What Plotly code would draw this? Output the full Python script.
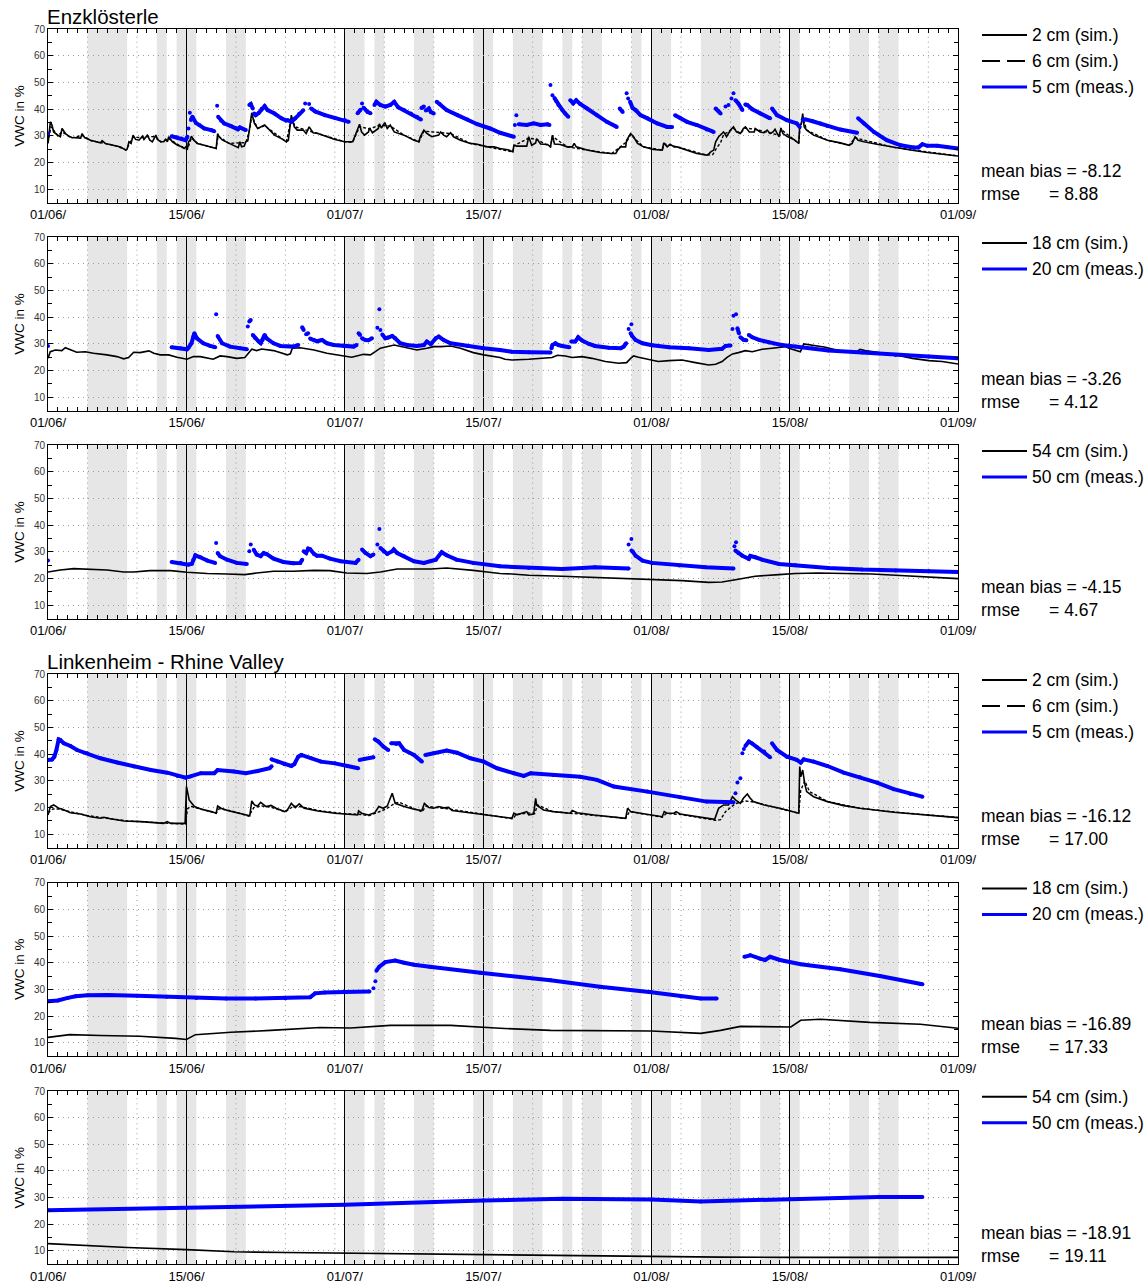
import plotly.graph_objects as go

# ---------------- data ----------------
DATE_TICKS = [0, 14, 30, 44, 61, 75, 92]
DATE_LABELS = ["01/06/", "15/06/", "01/07/", "15/07/", "01/08/", "15/08/", "01/09/"]

# rain days (grey bands), in days after 01/06
RAIN_DAYS = [(4, 8), (11, 12), (13, 15), (18, 20), (30, 32), (33, 34), (37, 39), (43, 45),
             (47, 50), (52, 53), (54, 56), (59, 60), (61, 63), (66, 70), (72, 74), (75, 76),
             (81, 83), (84, 86)]

# ---- Enzklösterle ----
ENZ_SIM_2 = [(0, 27.2), (0.14, 30.9), (0.24, 35.3), (0.4, 34.1), (0.57, 31.5), (0.98, 30.3), (1.25, 29.7),
             (1.42, 32.8), (1.76, 30.9), (2.1, 29.9), (2.43, 29.4), (3.3, 29.2), (3.45, 30.9), (3.7, 29.4),
             (4.3, 28.4), (5.3, 27.4), (5.47, 28.2), (5.8, 27.2), (6.66, 26.5), (7.34, 25.9), (7.85, 24.7),
             (8.0, 25.0), (8.18, 27.8), (8.4, 27.2), (8.6, 30.3), (8.86, 28.7), (9.2, 28.4), (9.54, 29.9),
             (9.7, 28.7), (10.04, 30.3), (10.3, 28.4), (10.55, 27.8), (10.9, 30.3), (11.06, 28.7), (11.4, 27.8),
             (11.7, 27.8), (11.9, 28.7), (12.07, 27.8), (12.2, 29.7), (12.58, 27.8), (13.1, 26.5), (13.6, 25.9),
             (13.76, 25.3), (13.93, 25.9), (14.1, 25.3), (14.2, 27.8), (14.34, 28.4), (14.5, 29.9), (14.75, 28.4),
             (15.1, 27.2), (15.8, 26.5), (16.3, 25.9), (16.8, 25.3), (17.0, 25.3), (17.15, 30.9), (17.3, 29.7),
             (17.65, 28.4), (18.3, 27.2), (19.0, 25.9), (19.24, 25.6), (19.4, 27.8), (19.57, 25.9), (19.84, 26.2),
             (20.0, 27.8), (20.2, 28.2), (20.36, 33.4), (20.6, 38.7), (20.87, 34.7), (21.2, 32.8), (21.9, 34.1),
             (22.2, 33.0), (22.9, 30.3), (23.6, 29.0), (24.1, 27.8), (24.3, 28.4), (24.6, 37.8), (24.9, 33.4),
             (25.2, 32.2), (25.8, 32.2), (26.1, 30.9), (26.4, 33.4), (26.8, 31.2), (27.3, 30.9), (28.3, 29.7),
             (29.0, 28.7), (30.0, 27.8), (30.8, 27.8), (31.0, 29.7), (31.5, 34.4), (31.7, 31.5), (32.0, 30.3),
             (32.4, 31.5), (32.5, 33.0), (32.8, 31.2), (33.4, 32.8), (33.5, 34.5), (33.7, 33.0), (34.05, 35.0),
             (34.3, 32.8), (34.6, 34.1), (35.0, 31.5), (36.0, 30.3), (37.0, 28.4), (37.5, 27.8), (37.64, 29.7),
             (38.0, 32.2), (38.3, 31.0), (38.8, 29.7), (39.5, 30.3), (39.7, 31.5), (40.0, 30.3), (40.3, 29.7),
             (40.7, 31.2), (41.0, 29.7), (41.7, 28.4), (42.7, 27.2), (43.4, 26.9), (44.4, 25.9), (45.1, 25.9),
             (45.7, 25.3), (46.6, 24.7), (47.0, 24.0), (47.1, 26.5), (47.4, 26.2), (48.4, 26.2), (48.6, 29.7),
             (48.9, 26.5), (49.3, 27.4), (49.4, 29.0), (49.8, 27.0), (50.5, 26.8), (50.8, 25.9), (51.0, 30.3),
             (51.2, 27.0), (51.8, 26.8), (52.5, 25.9), (53.0, 25.9), (53.2, 27.2), (53.4, 25.9), (54.5, 24.7),
             (55.8, 23.8), (56.9, 23.4), (57.4, 23.4), (57.6, 24.7), (57.9, 25.9), (58.4, 25.9), (58.5, 28.4),
             (58.9, 30.9), (59.2, 29.7), (59.6, 27.2), (60.2, 25.9), (61.2, 24.9), (62.1, 24.7), (62.25, 27.4),
             (62.6, 25.9), (62.9, 26.9), (63.3, 25.9), (63.6, 25.9), (64.6, 24.7), (65.6, 23.4), (66.6, 22.8),
             (66.8, 23.2), (67.0, 24.0), (67.3, 24.7), (67.5, 27.8), (67.8, 29.7), (68.3, 31.5), (68.6, 29.7),
             (69.0, 32.2), (69.3, 33.4), (69.6, 31.5), (70.0, 30.9), (70.3, 32.8), (70.5, 33.4), (70.9, 31.5),
             (71.4, 31.5), (71.5, 32.8), (72.0, 31.5), (72.4, 31.2), (72.7, 32.2), (73.0, 30.9), (73.3, 31.5),
             (73.5, 32.5), (73.9, 29.7), (74.1, 33.0), (74.3, 30.9), (74.7, 29.9), (75.4, 28.7), (75.9, 27.2),
             (76.0, 34.1), (76.15, 34.4), (76.3, 38.4), (76.45, 33.4), (76.7, 32.2), (77.4, 30.3), (78.1, 29.4),
             (78.8, 28.4), (80.1, 27.4), (81.0, 26.5), (81.3, 27.2), (81.6, 29.7), (81.9, 28.4), (82.5, 27.8),
             (83.8, 26.9), (85.5, 25.7), (87.2, 24.7), (88.9, 23.8), (90.6, 23.2), (92.0, 22.5)]

ENZ_SIM_6 = [(0, 27.5), (0.3, 33.5), (1.0, 30.0), (1.4, 31.5), (2.4, 29.3), (3.45, 30.2), (4.3, 28.3),
             (6.7, 26.5), (7.9, 24.8), (8.2, 27.0), (8.6, 29.5), (9.5, 29.4), (10.0, 29.8), (10.9, 29.7),
             (11.4, 27.8), (12.2, 29.0), (13.7, 25.4), (14.1, 25.0), (14.3, 27.5), (14.5, 29.3), (15.1, 27.2),
             (17.0, 25.3), (17.2, 30.0), (18.3, 27.2), (20.0, 27.5), (20.4, 32.5), (20.6, 37.5), (21.2, 32.8),
             (21.9, 33.8), (23.6, 29.0), (24.1, 27.8), (24.6, 36.8), (25.0, 33.4), (27.3, 30.9), (30.0, 27.8),
             (30.8, 27.6), (31.5, 33.5), (32.5, 32.6), (33.5, 34.0), (34.6, 33.7), (36.0, 30.3), (37.5, 27.8),
             (38.0, 31.8), (40.7, 30.9), (42.7, 27.2), (44.4, 25.9), (47.0, 24.0), (47.1, 26.3), (48.6, 29.2),
             (49.4, 28.7), (50.8, 25.9), (51.0, 29.8), (52.5, 25.9), (54.5, 24.7), (57.0, 23.4), (58.5, 27.8),
             (58.9, 30.5), (60.2, 25.9), (62.1, 24.7), (62.3, 27.0), (63.6, 25.9), (66.6, 22.8), (67.2, 23.0),
             (67.6, 25.5), (68.0, 27.5), (68.3, 30.5), (69.3, 32.8), (70.0, 30.9), (70.5, 33.0), (71.5, 32.5),
             (72.7, 31.5), (74.0, 30.2), (74.1, 32.5), (75.9, 27.2), (76.0, 32.0), (76.3, 37.0), (76.7, 32.2),
             (78.8, 28.4), (81.0, 26.5), (81.6, 29.3), (85.5, 25.7), (92.0, 22.5)]

ENZ_MEAS_5 = [
    [(0.0, 30.9)],
    [(12.5, 29.9), (13.0, 29.5), (13.5, 29.0), (13.9, 28.4), (14.1, 29.7)],
    [(14.2, 32.8)], [(14.34, 38.7)],
    [(14.45, 36.0), (14.6, 37.2), (14.95, 34.9), (15.3, 34.1), (15.8, 32.8), (16.5, 32.2), (16.8, 31.8)],
    [(17.1, 41.3)],
    [(17.2, 37.2), (17.5, 35.7), (17.8, 34.7), (18.5, 33.7), (19.0, 33.0), (19.2, 32.5), (19.4, 33.2), (20.0, 32.2)],
    [(20.35, 41.6), (20.5, 42.0), (20.7, 40.3)],
    [(20.85, 38.4), (21.0, 37.8), (21.3, 38.6), (21.6, 40.2), (21.9, 41.2), (22.2, 39.7), (22.9, 38.4),
     (23.6, 36.6), (24.1, 35.7)],
    [(24.2, 36.0), (24.6, 35.3), (25.0, 36.6), (25.4, 38.3), (25.8, 39.6)],
    [(26.0, 42.2)], [(26.4, 42.0)],
    [(26.6, 40.3), (27.0, 39.2), (28.0, 37.8), (29.0, 36.8), (30.0, 36.0), (30.4, 35.3)],
    [(31.3, 38.5), (31.6, 39.8)], [(31.75, 42.2)],
    [(31.9, 40.6), (32.3, 39.0), (32.6, 38.5)],
    [(33.0, 41.6), (33.2, 42.8), (33.6, 41.6), (34.1, 41.0), (34.6, 41.6), (35.0, 42.8), (35.4, 40.8),
     (36.0, 39.7), (36.7, 38.4), (37.3, 37.2), (37.7, 36.2)],
    [(37.75, 40.5), (38.0, 41.0)],
    [(38.2, 39.5), (38.5, 40.3), (38.7, 39.0), (39.0, 38.4)],
    [(39.3, 42.8), (39.6, 42.0), (40.3, 39.7), (41.4, 37.8), (42.4, 36.2), (43.4, 34.4), (44.7, 32.8),
     (45.7, 31.2), (47.1, 29.7)],
    [(47.2, 34.1)], [(47.35, 37.8)],
    [(47.6, 34.4), (48.4, 34.1), (49.1, 34.7), (49.8, 34.1), (50.5, 34.4), (50.7, 34.1)],
    [(50.8, 49.1)], [(51.0, 45.3)],
    [(51.2, 44.2), (51.4, 43.0), (51.6, 41.6), (52.0, 39.7), (52.3, 38.4), (52.6, 37.2)],
    [(52.8, 43.4), (53.1, 42.2), (53.4, 43.4), (53.8, 42.0), (54.5, 40.3), (55.5, 37.8), (56.5, 35.3), (57.5, 33.4)],
    [(57.8, 40.3), (58.1, 39.0)],
    [(58.5, 46.0)], [(58.65, 44.0)],
    [(58.85, 42.8), (59.1, 40.5), (59.4, 39.7), (59.9, 37.8), (60.6, 36.6), (61.6, 34.7), (62.6, 33.4), (63.1, 33.4)],
    [(63.4, 37.8), (63.9, 36.8), (64.6, 35.3), (65.6, 34.1), (66.6, 32.4), (67.3, 31.5)],
    [(67.5, 40.3), (67.8, 39.3), (68.0, 38.4)],
    [(68.5, 41.0)], [(68.8, 41.6)], [(69.1, 44.0)], [(69.3, 46.0)],
    [(69.5, 43.4), (69.8, 42.2), (70.2, 39.7)],
    [(70.5, 41.8), (70.7, 41.6), (71.2, 40.0), (72.0, 38.4), (73.0, 36.6)],
    [(73.2, 40.3), (73.7, 37.8), (74.7, 35.9), (75.7, 34.7), (76.0, 33.4)],
    [(76.3, 36.2), (76.6, 36.2), (77.3, 35.5), (78.1, 34.7), (78.8, 33.7), (80.1, 32.4), (81.8, 31.2)],
    [(81.9, 36.6), (82.5, 34.7), (83.5, 31.5), (84.8, 28.4), (86.2, 26.5), (87.5, 25.7), (88.0, 25.7),
     (88.4, 26.9), (88.9, 26.3), (89.9, 26.3), (90.9, 25.9), (92.0, 25.3)],
]

ENZ_SIM_18 = [(0, 24.6), (0.23, 27.1), (0.74, 27.75), (1.4, 27.5), (1.75, 28.6), (2.25, 27.75), (2.9, 26.9),
              (3.77, 27.1), (4.6, 26.5), (5.96, 25.9), (6.97, 25.25), (7.65, 24.4), (8.15, 24.9), (8.66, 26.9),
              (9.3, 26.75), (10.2, 27.4), (10.7, 26.5), (11.35, 25.9), (12.2, 25.9), (13.04, 25.0), (14.05, 24.25),
              (14.7, 25.25), (15.4, 25.25), (16.7, 24.25), (17.4, 25.5), (18.1, 25.25), (19.1, 24.6), (19.9, 24.9),
              (20.3, 26.5), (20.6, 28.0), (21.1, 27.5), (21.6, 28.1), (22.8, 27.5), (24.2, 25.9), (24.5, 26.3),
              (24.7, 28.4), (25.5, 28.6), (26.9, 27.75), (28.2, 26.5), (29.6, 25.5), (30.7, 25.0), (31.2, 25.5),
              (31.9, 26.1), (32.6, 25.9), (32.9, 26.75), (33.6, 28.4), (35.0, 29.6), (36.0, 28.75), (37.3, 27.75),
              (38.3, 28.4), (39.0, 29.0), (39.7, 29.0), (40.7, 29.25), (41.7, 28.4), (43.0, 26.75), (44.05, 25.9),
              (45.7, 24.9), (46.2, 24.25), (46.9, 24.0), (48.6, 24.25), (49.95, 24.6), (50.96, 24.9), (51.5, 25.75),
              (52.3, 25.5), (53.0, 24.9), (54.0, 25.25), (55.0, 24.6), (56.35, 23.4), (57.7, 22.75), (58.5, 23.0),
              (58.9, 24.6), (59.2, 25.5), (59.7, 25.0), (60.7, 24.25), (61.7, 23.4), (62.8, 23.75), (64.1, 24.0),
              (65.45, 23.0), (66.8, 22.1), (67.5, 22.4), (68.15, 23.4), (68.65, 25.0), (69.2, 26.25), (69.8, 26.75),
              (70.5, 27.5), (71.2, 27.1), (72.2, 28.0), (73.2, 28.4), (73.9, 28.75), (74.55, 29.0), (74.9, 28.4),
              (75.56, 27.75), (76.07, 27.1), (76.4, 30.0), (77.25, 29.6), (78.6, 28.75), (79.9, 27.5),
              (80.96, 27.1), (81.6, 26.75), (82.1, 28.0), (82.6, 27.5), (84.0, 26.75), (85.7, 25.9),
              (87.4, 24.6), (89.05, 23.75), (90.4, 23.4), (92.0, 22.5)]

ENZ_MEAS_20 = [
    [(0.0, 29.25)],
    [(12.5, 28.75), (13.4, 28.4), (14.05, 28.0), (14.2, 28.6), (14.5, 30.25), (14.7, 32.75), (14.8, 34.0),
     (15.06, 32.1), (15.7, 30.25), (16.4, 29.25), (16.9, 28.75)],
    [(17.0, 41.1)],
    [(17.15, 33.0), (17.6, 30.25), (18.4, 29.0), (19.4, 28.4), (20.1, 28.0)],
    [(20.2, 36.5)], [(20.35, 38.4), (20.5, 39.0)],
    [(20.7, 33.4), (20.96, 32.1), (21.3, 30.9), (21.5, 30.3), (21.7, 31.5), (21.9, 33.4), (22.1, 32.1),
     (22.8, 30.25), (23.5, 29.25), (24.8, 29.0), (25.3, 29.6)],
    [(25.7, 36.25), (25.85, 35.2)],
    [(26.1, 33.6), (26.3, 34.0)],
    [(26.5, 32.0), (26.9, 31.5), (27.2, 31.0), (27.7, 31.5), (28.2, 30.25), (28.9, 29.6), (29.9, 29.25),
     (30.9, 29.0), (31.2, 29.6)],
    [(31.4, 34.0), (31.55, 33.4)],
    [(31.75, 32.1), (32.1, 31.5), (32.4, 31.4), (32.75, 32.1)],
    [(33.3, 36.1)], [(33.5, 43.0)], [(33.6, 35.25)],
    [(33.8, 33.5), (34.1, 32.1), (34.4, 32.4), (34.8, 33.0), (35.1, 32.1), (35.6, 30.25), (36.3, 29.6),
     (37.3, 29.25), (38.0, 29.6), (38.3, 30.9), (38.7, 29.9), (39.2, 32.1), (39.5, 32.75), (40.0, 31.5),
     (40.7, 30.25), (42.4, 29.25), (44.05, 28.4), (45.7, 27.75), (46.9, 27.1), (48.6, 26.9), (50.8, 26.75)],
    [(50.9, 28.4), (51.0, 29.6), (51.3, 30.25), (51.6, 29.6), (52.0, 29.25), (52.7, 28.75)],
    [(52.9, 30.9), (53.3, 30.9), (53.6, 32.5), (54.0, 31.25), (54.7, 30.0), (55.3, 29.25), (56.7, 28.6),
     (57.9, 28.4), (58.2, 29.0), (58.45, 30.25)],
    [(58.7, 35.6)], [(58.98, 37.4)],
    [(58.9, 34.0), (59.05, 33.0), (59.4, 31.5), (60.1, 30.25), (61.07, 29.5), (62.8, 28.75), (64.8, 28.4),
     (66.8, 27.75), (68.15, 28.2), (68.5, 29.25), (69.0, 29.4)],
    [(69.2, 35.6)], [(69.3, 40.6)], [(69.56, 41.1)],
    [(69.7, 35.9), (69.85, 34.0)],
    [(70.0, 32.5), (70.3, 31.6), (70.6, 31.4)],
    [(70.85, 33.4), (71.2, 32.5), (71.9, 31.5), (72.9, 30.5), (73.4, 30.2), (74.2, 29.6), (75.56, 29.0),
     (77.25, 28.4), (78.9, 27.5), (82.3, 26.75), (85.7, 25.9), (89.05, 25.25), (92.0, 24.6)],
]

ENZ_SIM_54 = [(0, 22.5), (1.24, 23.25), (2.6, 23.75), (4.3, 23.6), (5.96, 23.25), (7.65, 22.5), (8.66, 22.5),
              (10.3, 23.0), (12.4, 23.0), (14.05, 22.4), (16.1, 21.9), (18.1, 21.75), (19.9, 21.5), (21.1, 22.1),
              (22.8, 22.75), (24.8, 22.75), (26.9, 23.1), (28.5, 23.0), (30.2, 22.1), (32.25, 21.9), (33.6, 22.5),
              (35.3, 23.6), (37.0, 23.6), (38.7, 23.6), (40.3, 24.0), (41.7, 23.6), (43.0, 23.1), (44.4, 22.5),
              (45.7, 21.9), (46.9, 21.75), (48.6, 21.25), (51.97, 20.9), (55.3, 20.5), (58.7, 19.9),
              (61.07, 19.6), (64.1, 19.25), (66.8, 18.6), (68.15, 18.75), (69.5, 19.6), (71.5, 20.9),
              (73.9, 21.5), (75.56, 21.9), (77.9, 22.1), (80.6, 21.9), (83.3, 21.75), (85.7, 21.25),
              (89.05, 20.5), (92.0, 20.0)]

ENZ_MEAS_50 = [
    [(0.0, 26.75)],
    [(12.5, 26.25), (13.4, 25.9), (14.2, 25.25), (14.55, 25.6), (14.7, 27.1), (14.9, 28.75), (15.4, 28.0),
     (16.1, 26.75), (16.9, 25.9)],
    [(17.0, 33.4)],
    [(17.15, 29.6), (17.4, 28.4), (18.1, 27.1), (19.1, 25.9), (20.1, 25.5)],
    [(20.35, 30.25)], [(20.5, 32.75)],
    [(20.8, 30.8), (21.1, 29.0), (21.5, 28.4), (21.8, 29.6), (22.1, 29.2), (22.8, 27.5), (23.8, 26.25),
     (24.8, 25.75), (25.5, 25.9), (25.7, 27.1)],
    [(25.85, 30.25), (26.1, 29.6), (26.3, 31.25), (26.5, 31.0), (26.9, 29.25), (27.2, 28.6), (27.7, 28.6),
     (28.5, 27.5), (29.6, 26.5), (31.1, 25.9), (31.4, 27.1)],
    [(31.75, 30.9), (32.1, 29.6), (32.6, 28.4), (32.9, 29.0)],
    [(33.3, 32.75)], [(33.5, 38.6)],
    [(33.6, 31.5), (33.95, 30.2), (34.3, 29.25), (34.8, 30.25), (34.95, 30.9), (35.3, 29.6), (36.0, 28.4),
     (37.0, 26.5), (38.0, 25.9), (38.7, 26.5), (39.2, 27.1), (39.8, 29.9), (40.3, 28.75), (41.3, 27.1),
     (43.0, 25.9), (45.7, 24.6), (48.6, 24.0), (51.97, 23.6), (54.0, 24.0), (55.3, 24.25), (58.7, 23.75)],
    [(58.7, 32.75)], [(58.98, 34.9)],
    [(58.98, 30.5), (59.1, 30.2), (59.4, 28.6), (60.1, 26.75), (61.07, 25.9), (63.8, 24.9), (66.5, 24.25),
     (69.3, 23.75)],
    [(69.4, 32.1)], [(69.56, 33.6)],
    [(69.5, 30.5), (69.8, 29.6), (70.2, 28.6), (70.85, 27.4), (71.0, 28.5), (71.5, 28.0), (72.2, 27.1),
     (73.9, 25.5), (75.56, 25.0), (78.9, 24.0), (82.3, 23.4), (85.7, 23.0), (89.05, 22.75), (92.0, 22.5)],
]

# ---- Linkenheim - Rhine Valley ----
LIN_SIM_2 = [(0, 17.25), (0.24, 20.4), (0.57, 21.0), (1.08, 19.75), (1.4, 19.5), (2.27, 18.1), (3.28, 17.6),
             (4.3, 16.6), (5.3, 16.0), (5.65, 16.4), (6.3, 15.8), (7.7, 15.0), (9.4, 14.75), (11.05, 14.4),
             (11.7, 14.1), (12.07, 14.75), (12.4, 14.1), (13.4, 14.1), (13.86, 14.1), (14.0, 27.9), (14.27, 22.9),
             (14.8, 20.4), (15.45, 19.5), (16.5, 18.5), (17.0, 17.9), (17.15, 20.6), (17.5, 19.75), (18.15, 18.9),
             (19.2, 17.9), (20.2, 16.9), (20.4, 16.9), (20.6, 22.5), (20.87, 21.0), (21.2, 20.6), (21.5, 22.0),
             (22.05, 20.4), (22.55, 20.8), (23.06, 19.75), (23.9, 18.5), (24.2, 19.1), (24.6, 21.6), (25.0, 20.0),
             (25.4, 21.4), (25.9, 19.75), (27.3, 18.75), (29.0, 17.9), (30.7, 17.25), (31.3, 17.25), (31.4, 18.75),
             (31.7, 17.9), (32.4, 17.25), (33.04, 18.1), (33.45, 20.4), (33.9, 19.75), (34.3, 20.6), (34.8, 25.4),
             (35.1, 21.6), (36.0, 20.4), (37.0, 19.4), (37.8, 18.9), (38.05, 21.6), (38.5, 20.0), (39.0, 19.75),
             (39.5, 20.4), (40.0, 19.9), (40.5, 20.1), (40.85, 18.9), (41.7, 18.5), (43.4, 17.9), (45.1, 16.9),
             (46.9, 16.0), (47.1, 17.9), (47.4, 17.3), (48.4, 18.5), (48.6, 17.3), (49.1, 17.6), (49.3, 23.5),
             (49.4, 21.0), (50.1, 19.1), (51.1, 18.5), (52.8, 17.9), (53.0, 18.9), (53.5, 18.1), (55.2, 17.25),
             (57.2, 16.6), (58.4, 16.0), (58.6, 19.75), (58.9, 18.5), (59.9, 17.9), (61.2, 17.0), (62.1, 16.6),
             (62.3, 18.5), (62.6, 17.9), (63.3, 17.9), (63.5, 18.5), (63.9, 17.6), (65.6, 16.6), (67.3, 15.4),
             (67.4, 15.6), (67.8, 19.75), (68.3, 21.0), (68.8, 21.0), (69.2, 24.1), (69.5, 22.9), (70.0, 21.6),
             (70.3, 23.5), (70.7, 25.1), (71.0, 23.5), (71.3, 22.25), (72.4, 21.0), (74.0, 19.75), (75.9, 17.9),
             (76.0, 35.4), (76.1, 31.6), (76.3, 34.1), (76.5, 29.1), (76.7, 26.0), (77.4, 24.1), (78.8, 22.25),
             (80.45, 20.75), (82.1, 19.75), (85.5, 18.25), (88.9, 17.25), (92.0, 16.25)]

LIN_SIM_6 = [(0, 18.0), (0.5, 19.5), (1.0, 19.5), (2.5, 18.2), (4.0, 17.0), (6.0, 16.0), (8.0, 15.0),
             (10.0, 14.6), (12.0, 14.3), (13.9, 13.8), (14.1, 19.5), (14.4, 20.5), (15.5, 19.4), (17.0, 17.9),
             (17.3, 19.6), (18.5, 18.8), (20.3, 16.8), (20.8, 20.0), (21.6, 20.6), (22.5, 20.2), (24.0, 18.4),
             (24.8, 20.5), (25.6, 20.3), (27.5, 18.8), (30.0, 17.7), (31.4, 17.5), (32.5, 17.0), (33.5, 18.5),
             (34.2, 19.5), (35.0, 21.5), (35.5, 22.0), (37.8, 18.4), (38.2, 20.5), (40.5, 19.5), (43.0, 18.0),
             (47.0, 15.8), (47.3, 17.3), (48.5, 18.0), (49.2, 17.8), (49.5, 21.0), (51.0, 18.5), (55.0, 17.2),
             (58.4, 16.0), (58.8, 18.5), (62.1, 16.4), (62.5, 17.8), (64.0, 17.4), (67.5, 15.2), (68.0, 15.5),
             (68.5, 18.5), (69.5, 21.5), (70.5, 22.5), (71.5, 22.0), (74.0, 19.6), (75.9, 17.9), (76.1, 26.5),
             (76.5, 30.0), (77.0, 26.0), (78.8, 22.3), (82.0, 19.8), (86.0, 18.2), (92.0, 16.3)]

LIN_MEAS_5 = [
    [(0.0, 37.9), (0.4, 38.0), (0.64, 39.1), (0.85, 41.6), (1.08, 45.6), (1.25, 45.4), (1.6, 44.1),
     (2.27, 43.1), (2.94, 41.6), (3.96, 40.4), (5.3, 38.5), (7.0, 36.9), (8.7, 35.4), (10.4, 34.1),
     (12.07, 33.1), (13.1, 31.9), (13.9, 31.25), (14.4, 31.7), (15.45, 32.9), (16.8, 32.9), (17.15, 34.1),
     (18.8, 33.5), (20.0, 32.9), (21.2, 33.75), (22.4, 34.75), (22.6, 35.5)],
    [(22.6, 38.1), (23.2, 37.25), (23.9, 36.25), (24.6, 35.6), (24.9, 36.3), (25.3, 39.1), (25.6, 39.75),
     (26.6, 38.5), (27.6, 37.25), (29.0, 36.6), (30.3, 35.6), (31.35, 34.75)],
    [(31.5, 37.9), (32.0, 38.3), (32.9, 38.9)],
    [(33.04, 45.6), (33.4, 44.75), (33.9, 42.9), (34.4, 41.6)],
    [(34.7, 44.1), (35.2, 43.9), (35.5, 44.1), (36.0, 41.6), (37.0, 39.75), (37.8, 37.25)],
    [(38.15, 39.75), (39.0, 40.4), (40.3, 41.4), (41.35, 40.6), (42.7, 38.5), (44.05, 37.25), (45.4, 34.75),
     (47.1, 32.9), (48.1, 31.9), (48.8, 32.9), (51.1, 32.25), (53.8, 31.6), (55.5, 30.4), (57.2, 27.9),
     (60.6, 26.0), (63.9, 23.9), (66.6, 22.25), (69.3, 22.0)],
    [(69.5, 25.4)], [(69.7, 29.4)], [(70.0, 31.0)], [(70.2, 40.4)], [(70.35, 42.0)],
    [(70.5, 43.1), (70.85, 44.75), (71.2, 44.0), (71.7, 42.6), (72.4, 41.0), (73.0, 38.9)],
    [(73.2, 44.1), (73.7, 41.6), (74.7, 39.1), (75.7, 37.9), (76.1, 36.9), (76.4, 38.1), (77.4, 37.25),
     (78.8, 35.6), (80.45, 33.1), (82.1, 31.4), (83.8, 29.4), (85.5, 26.9), (87.2, 25.1), (88.4, 24.1)],
]

LIN_SIM_18 = [(0, 12.0), (2.2, 13.0), (5.3, 12.7), (9.3, 12.4), (12.9, 11.6), (14.0, 11.2), (14.9, 13.0),
              (18.5, 13.9), (22.5, 14.6), (27.5, 15.7), (30.6, 15.5), (34.6, 16.5), (40.7, 16.5), (45.7, 15.4),
              (50.8, 14.6), (55.8, 14.6), (61.0, 14.4), (66.0, 13.5), (68.0, 14.6), (70.0, 16.1), (74.0, 16.1),
              (75.1, 15.9), (76.1, 18.4), (78.1, 18.8), (83.1, 17.6), (88.2, 16.9), (92.0, 15.4)]

LIN_MEAS_20 = [
    [(0.0, 25.5), (1.0, 25.8), (2.0, 26.8), (2.8, 27.4), (4.0, 27.8), (6.0, 27.9), (9.0, 27.6), (12.0, 27.2),
     (15.0, 26.8), (18.0, 26.6), (21.0, 26.6), (24.0, 26.7), (26.5, 27.0), (27.0, 28.5), (28.0, 28.8),
     (30.0, 29.0), (32.5, 29.2)],
    [(32.9, 30.4)], [(33.1, 33.0)],
    [(33.2, 37.0), (33.5, 38.5), (34.1, 40.2), (35.1, 40.8), (36.0, 40.0), (37.0, 39.2), (38.6, 38.5),
     (43.7, 36.2), (50.8, 33.4), (55.8, 31.0), (61.0, 28.9), (64.0, 27.3), (66.0, 26.6), (67.6, 26.6)],
    [(70.4, 42.2), (71.0, 42.8), (72.0, 41.5), (72.5, 41.0), (73.0, 42.2), (74.0, 41.0), (76.1, 39.4),
     (80.1, 37.5), (84.1, 35.0), (88.2, 32.0), (88.4, 31.9)],
]

LIN_SIM_54 = [(0, 12.75), (8, 11.3), (14, 10.5), (18.8, 9.7), (24, 9.4), (29, 9.2), (37, 9.0), (44, 8.7),
              (52, 8.2), (61, 8.0), (68, 7.7), (75, 7.6), (92, 7.6)]

LIN_MEAS_50 = [[(0, 25.3), (14, 26.2), (30, 27.3), (44, 28.9), (52, 29.6), (61, 29.3), (66, 28.6), (75, 29.4),
                (84, 30.2), (88.4, 30.2)]]

PANELS = [
    dict(sims=[("2 cm (sim.)", ENZ_SIM_2, "solid"), ("6 cm (sim.)", ENZ_SIM_6, "dash")],
         meas=("5 cm (meas.)", ENZ_MEAS_5), bias="-8.12", rmse="8.88"),
    dict(sims=[("18 cm (sim.)", ENZ_SIM_18, "solid")], meas=("20 cm (meas.)", ENZ_MEAS_20),
         bias="-3.26", rmse="4.12"),
    dict(sims=[("54 cm (sim.)", ENZ_SIM_54, "solid")], meas=("50 cm (meas.)", ENZ_MEAS_50),
         bias="-4.15", rmse="4.67"),
    dict(sims=[("2 cm (sim.)", LIN_SIM_2, "solid"), ("6 cm (sim.)", LIN_SIM_6, "dash")],
         meas=("5 cm (meas.)", LIN_MEAS_5), bias="-16.12", rmse="17.00"),
    dict(sims=[("18 cm (sim.)", LIN_SIM_18, "solid")], meas=("20 cm (meas.)", LIN_MEAS_20),
         bias="-16.89", rmse="17.33"),
    dict(sims=[("54 cm (sim.)", LIN_SIM_54, "solid")], meas=("50 cm (meas.)", LIN_MEAS_50),
         bias="-18.91", rmse="19.11"),
]
SITE_TITLES = [(0, "Enzklösterle"), (3, "Linkenheim - Rhine Valley")]

# ---------------- layout helpers ----------------
FIG_W, FIG_H = 1148, 1288
ML, MR = 48, 190
PLOT_W = FIG_W - ML - MR
PANEL_TOPS = [29.3, 237.3, 445.3, 674.3, 882.7, 1091.0]
PANEL_H = 173.3
FONT = "Liberation Sans, Arial, Helvetica, sans-serif"
BLUE = "#0000ff"


def yp(px):
    return 1 - px / FIG_H


def xp(px):
    return (px - ML) / PLOT_W


fig = go.Figure()
shapes = []
annotations = []

for i, p in enumerate(PANELS):
    n = i + 1
    sx = "" if n == 1 else str(n)
    xref, yref = "x" + sx, "y" + sx
    top = PANEL_TOPS[i]

    for name, data, style in p["sims"]:
        fig.add_trace(go.Scatter(
            x=[d for d, v in data], y=[v for d, v in data], mode="lines", name=name,
            xaxis=xref, yaxis=yref, showlegend=False,
            line=dict(color="black", width=1.6 if style == "solid" else 1.4,
                      dash="solid" if style == "solid" else "3px,2px")))
    mname, segs = p["meas"]
    mx, my = [], []
    for seg in segs:
        for d, v in seg:
            mx.append(d)
            my.append(v)
        mx.append(None)
        my.append(None)
    fig.add_trace(go.Scatter(
        x=mx, y=my, mode="lines+markers", name=mname, xaxis=xref, yaxis=yref, showlegend=False,
        connectgaps=False, line=dict(color=BLUE, width=4), marker=dict(color=BLUE, size=4)))

    axx = dict(domain=[0, 1], range=[0, 92], anchor=yref, tickmode="array", tickvals=DATE_TICKS,
               ticktext=DATE_LABELS, ticks="inside", ticklen=5, tickcolor="black", showline=True,
               linecolor="black", linewidth=1, mirror="ticks", showgrid=True, gridcolor="black",
               gridwidth=1, zeroline=False, automargin=False,
               tickfont=dict(size=13, color="black", family=FONT),
               minor=dict(tickmode="array", tickvals=list(range(93)), ticks="inside", ticklen=4,
                          tickcolor="black", showgrid=False))
    axy = dict(domain=[yp(top + PANEL_H), yp(top)], range=[5, 70], anchor=xref, tick0=0, dtick=10,
               ticks="inside", ticklen=5, tickcolor="black", showline=True, linecolor="black",
               linewidth=1, mirror="ticks", showgrid=True, gridcolor="#9a9a9a", gridwidth=1,
               griddash="1px,4px", zeroline=False, automargin=False,
               tickfont=dict(size=10, color="#333333", family=FONT),
               minor=dict(tick0=0, dtick=5, ticks="inside", ticklen=4, tickcolor="black", showgrid=False),
               title=dict(text="VWC in %", font=dict(size=13.5, color="black", family=FONT), standoff=6))
    fig.update_layout({("xaxis" + sx): axx, ("yaxis" + sx): axy})

    ydom = yref + " domain"
    for a, b in RAIN_DAYS:
        shapes.append(dict(type="rect", xref=xref, yref=ydom, x0=a, x1=b, y0=0, y1=1,
                           fillcolor="#e6e6e6", line=dict(width=0), layer="below"))
    for d in range(4, 92, 5):
        if d in DATE_TICKS:
            continue
        shapes.append(dict(type="line", xref=xref, yref=ydom, x0=d, x1=d, y0=0, y1=1,
                           line=dict(color="#9a9a9a", width=1, dash="1px,4px"), layer="below"))

    # legend (drawn manually to match the reference style)
    entries = [(nm, st) for nm, _, st in p["sims"]] + [(mname, "meas")]
    for j, (nm, st) in enumerate(entries):
        ypx = top + 5.7 + 26 * j
        if st == "meas":
            ln = dict(color=BLUE, width=3)
        elif st == "dash":
            ln = dict(color="black", width=2, dash="18px,7px")
        else:
            ln = dict(color="black", width=2)
        shapes.append(dict(type="line", xref="paper", yref="paper", x0=xp(982), x1=xp(1027),
                           y0=yp(ypx), y1=yp(ypx), line=ln))
        annotations.append(dict(text=nm, xref="paper", yref="paper", x=xp(1030), y=yp(ypx),
                                xanchor="left", yanchor="middle", showarrow=False,
                                font=dict(size=17.5, color="black", family=FONT)))
    bot = top + PANEL_H
    annotations.append(dict(text="mean bias = " + p["bias"] + "<br>rmse" + "\u00a0" * 6 + "= " + p["rmse"],
                            xref="paper", yref="paper", x=xp(979), y=yp(bot - 20.1), align="left",
                            xanchor="left", yanchor="middle", showarrow=False,
                            font=dict(size=17.5, color="black", family=FONT)))

for idx, title in SITE_TITLES:
    top = PANEL_TOPS[idx]
    annotations.append(dict(text=title, xref="paper", yref="paper", x=xp(45), y=yp(top - 12.5),
                            xanchor="left", yanchor="middle", showarrow=False,
                            font=dict(size=20.5, color="black", family=FONT)))

fig.update_layout(width=FIG_W, height=FIG_H, margin=dict(l=ML, r=MR, t=0, b=0, autoexpand=False),
                  paper_bgcolor="white", plot_bgcolor="white", shapes=shapes, annotations=annotations,
                  font=dict(family=FONT, color="black"), showlegend=False)

fig.write_html("out.html")
